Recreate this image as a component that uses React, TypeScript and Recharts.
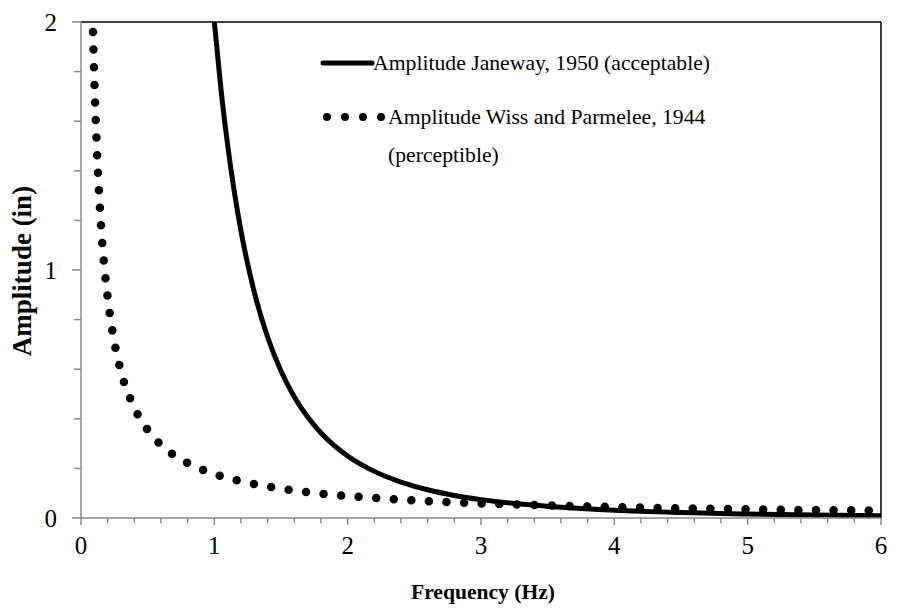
import React from 'react';
import { LineChart, Line, XAxis, YAxis, ReferenceLine } from 'recharts';

const janewayFreq = [1.0, 1.05, 1.1, 1.15, 1.2, 1.3, 1.4, 1.5, 1.6, 1.7, 1.8, 1.9, 2.0, 2.2, 2.4, 2.6, 2.8, 3.0, 3.3, 3.6, 4.0, 4.5, 5.0, 5.5, 6.0];
const janewayAmp = [2.0, 1.728, 1.503, 1.315, 1.157, 0.91, 0.729, 0.593, 0.488, 0.407, 0.343, 0.292, 0.25, 0.188, 0.145, 0.114, 0.091, 0.074, 0.056, 0.043, 0.031, 0.022, 0.016, 0.012, 0.009];

const wissFreq = [0.09, 0.1, 0.12, 0.15, 0.2, 0.25, 0.3, 0.4, 0.5, 0.6, 0.7, 0.8, 0.9, 1.0, 1.2, 1.4, 1.6, 1.8, 2.0, 2.5, 3.0, 3.5, 4.0, 4.5, 5.0, 5.5, 6.0];
const wissAmp = [1.96, 1.77, 1.48, 1.18, 0.89, 0.71, 0.59, 0.445, 0.355, 0.295, 0.253, 0.222, 0.197, 0.177, 0.148, 0.127, 0.111, 0.098, 0.089, 0.071, 0.059, 0.051, 0.044, 0.039, 0.035, 0.032, 0.03];

const xTicks = [0, 0.2, 0.4, 0.6, 0.8, 1, 1.2, 1.4, 1.6, 1.8, 2, 2.2, 2.4, 2.6, 2.8, 3, 3.2, 3.4, 3.6, 3.8, 4, 4.2, 4.4, 4.6, 4.8, 5, 5.2, 5.4, 5.6, 5.8, 6];
const yTicks = [0, 0.2, 0.4, 0.6, 0.8, 1, 1.2, 1.4, 1.6, 1.8, 2];

const seriesNames = ['Amplitude Janeway, 1950 (acceptable)', 'Amplitude Wiss and Parmelee, 1944', '(perceptible)'];
const xTitle = 'Frequency (Hz)';
const yTitle = 'Amplitude (in)';

const janewayData = janewayFreq.map((f, i) => ({ f, a: janewayAmp[i] }));
const wissData = wissFreq.map((f, i) => ({ f, a: wissAmp[i] }));

const FONT = '"Liberation Serif", "Times New Roman", serif';
const AXIS = '#888888';

const isMajor = (v: number) => Math.abs(v - Math.round(v)) < 1e-6;

const XTick = (props: any) => {
  const { x, y, payload } = props;
  const major = isMajor(payload.value);
  return (
    <g>
      <line x1={x} x2={x} y1={y} y2={y + (major ? 7 : 5)} stroke={AXIS} strokeWidth={1.5} />
      {major && (
        <text x={x} y={y + 36} textAnchor="middle" fontFamily={FONT} fontSize={25} fill="#000">
          {Math.round(payload.value)}
        </text>
      )}
    </g>
  );
};

const YTick = (props: any) => {
  const { x, y, payload } = props;
  const major = isMajor(payload.value);
  return (
    <g>
      <line x1={x - (major ? 9 : 7)} x2={x} y1={y} y2={y} stroke={AXIS} strokeWidth={1.5} />
      {major && (
        <text x={x - 24} y={y + 9} textAnchor="end" fontFamily={FONT} fontSize={25} fill="#000">
          {Math.round(payload.value)}
        </text>
      )}
    </g>
  );
};

const LegendOverlay = () => (
  <svg width={440} height={130} style={{ position: 'absolute', left: 318, top: 51, overflow: 'visible' }}>
    <line x1={5} x2={54} y1={12} y2={12} stroke="#000" strokeWidth={5} strokeLinecap="round" />
    <text x={55} y={19} fontFamily={FONT} fontSize={21.7} fill="#000">{seriesNames[0]}</text>
    <line x1={9} x2={64} y1={66} y2={66} stroke="#000" strokeWidth={8} strokeLinecap="round" strokeDasharray="0 18" />
    <text x={70} y={73} fontFamily={FONT} fontSize={21.7} fill="#000">{seriesNames[1]}</text>
    <text x={70} y={111} fontFamily={FONT} fontSize={21.7} fill="#000">{seriesNames[2]}</text>
  </svg>
);

export default function App() {
  return (
    <div style={{ position: 'absolute', left: 0, top: 0, width: 898, height: 613, background: '#fff' }}>
      <LineChart width={898} height={613} margin={{ top: 22, right: 17, left: 0, bottom: 33 }}>
        <XAxis
          type="number"
          dataKey="f"
          domain={[0, 6]}
          ticks={xTicks}
          interval={0}
          allowDataOverflow
          tick={<XTick />}
          tickLine={false}
          tickSize={0}
          tickMargin={0}
          height={62}
          axisLine={{ stroke: AXIS, strokeWidth: 1.5 }}
          label={{
            content: (p: any) => {
              const vb = p.viewBox;
              return (
                <text x={vb.x + vb.width / 2 + 2} y={vb.y + 81} textAnchor="middle" fontFamily={FONT} fontSize={21.6} fontWeight="bold" fill="#000">
                  {xTitle}
                </text>
              );
            },
          }}
        />
        <YAxis
          type="number"
          dataKey="a"
          domain={[0, 2]}
          ticks={yTicks}
          interval={0}
          allowDataOverflow
          tick={<YTick />}
          tickLine={false}
          tickSize={0}
          tickMargin={0}
          width={81}
          axisLine={{ stroke: AXIS, strokeWidth: 1.5 }}
          label={{
            content: (p: any) => {
              const vb = p.viewBox;
              const cx = 22;
              const cy = vb.y + vb.height / 2 + 1;
              return (
                <text x={cx} y={cy} transform={`rotate(-90 ${cx} ${cy})`} textAnchor="middle" dominantBaseline="central" fontFamily={FONT} fontSize={27} fontWeight="bold" fill="#000">
                  {yTitle}
                </text>
              );
            },
          }}
        />
        <ReferenceLine y={2} stroke="#000" strokeWidth={1.5} />
        <ReferenceLine x={6} stroke="#000" strokeWidth={1.5} />
        <Line
          data={wissData}
          dataKey="a"
          type="monotone"
          stroke="#000"
          strokeWidth={8.5}
          strokeLinecap="round"
          strokeDasharray="0 17.6"
          dot={false}
          activeDot={false}
          isAnimationActive={false}
        />
        <Line
          data={janewayData}
          dataKey="a"
          type="monotone"
          stroke="#000"
          strokeWidth={5}
          dot={false}
          activeDot={false}
          isAnimationActive={false}
        />
      </LineChart>
      <LegendOverlay />
    </div>
  );
}
